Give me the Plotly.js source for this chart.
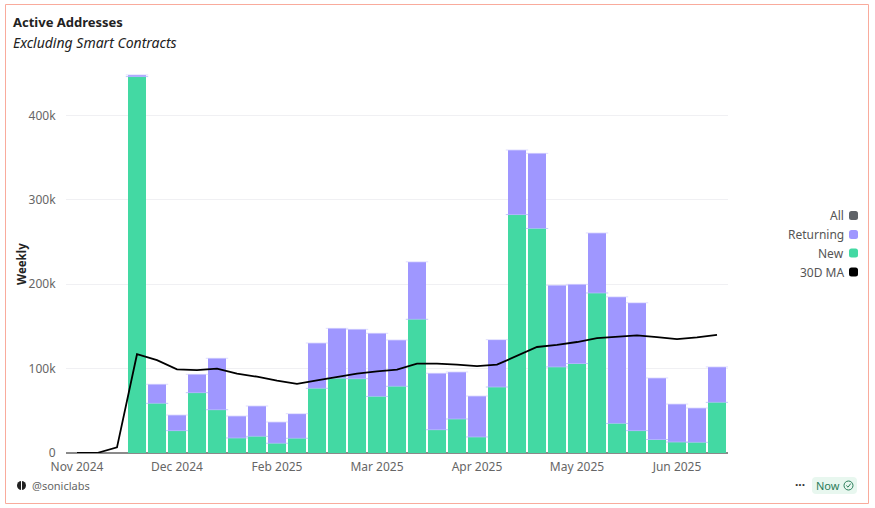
<!DOCTYPE html>
<html><head><meta charset="utf-8">
<script src="https://cdn.plot.ly/plotly-3.0.1.min.js"></script>
<style>html,body{margin:0;padding:0;background:#fff;overflow:hidden}#c{width:875px;height:508px}</style>
</head><body><div id="c"></div>
<script>
const weeks = ["2024-11-11","2024-11-18","2024-11-25","2024-12-02","2024-12-09","2024-12-16","2024-12-23","2024-12-30","2025-01-06","2025-01-13","2025-01-20","2025-01-27","2025-02-03","2025-02-10","2025-02-17","2025-02-24","2025-03-03","2025-03-10","2025-03-17","2025-03-24","2025-03-31","2025-04-07","2025-04-14","2025-04-21","2025-04-28","2025-05-05","2025-05-12","2025-05-19","2025-05-26","2025-06-02","2025-06-09","2025-06-16","2025-06-23"];
const newAddresses = [0,0,0,446000,58800,26500,71500,51300,17800,19700,11500,17400,76600,88500,88000,67000,79000,158400,27600,40300,19000,78200,282500,266000,102000,106000,189600,35000,26500,16000,13000,12600,60000];
const returningAddresses = [0,0,0,2000,22600,18500,21700,60900,26000,36000,25200,29200,53700,59200,58500,74800,54900,68100,66800,55700,48500,56100,76500,89000,96700,93800,71100,150000,151500,72900,45000,40700,42000];
const ma30 = [0,0,6700,117000,110000,99000,98300,100000,94000,90400,85700,82000,86000,90400,94000,96800,98700,106000,105800,104700,103000,104700,115300,125600,128000,131500,136000,138000,139400,137400,135000,137000,140000];
const tickValues = ["2024-11-11","2024-12-16","2025-01-20","2025-02-24","2025-03-31","2025-05-05","2025-06-09"];
const tickLabels = ["Nov 2024","Dec 2024","Feb 2025","Mar 2025","Apr 2025","May 2025","Jun 2025"];
const legendLabels = ["All","Returning","New","30D MA"];
const legendColors = ["#5f6368","#9f97ff","#43d9a3","#000000"];

const FONT = "'Noto Sans', Inter, Roboto, sans-serif";
const L=66,T=65,W=662,H=388;
const px=x=>(x-L)/W, py=y=>(T+H-y)/H;
const barWeeks = weeks.slice(3);
const newTops = newAddresses.slice(3);
const allTops = barWeeks.map((w,i)=>newAddresses[i+3]+returningAddresses[i+3]);

const traces=[
 {type:'bar',name:'New',x:weeks,y:newAddresses,marker:{color:'#43d9a3',line:{width:0}},showlegend:false,hoverinfo:'skip'},
 {type:'bar',name:'Returning',x:weeks,y:returningAddresses,marker:{color:'#9f97ff',line:{width:0}},showlegend:false,hoverinfo:'skip'},
 {type:'scatter',mode:'markers',x:barWeeks,y:newTops,showlegend:false,hoverinfo:'skip',marker:{symbol:'line-ew',size:16,line:{width:0.8,color:'#b4bdfb'}}},
 {type:'scatter',mode:'markers',x:barWeeks,y:allTops,showlegend:false,hoverinfo:'skip',marker:{symbol:'line-ew',size:16,line:{width:0.8,color:'#d8d5ff'}}},
 {type:'scatter',mode:'lines',name:'30D MA',x:weeks,y:ma30,line:{color:'#000',width:1.8},showlegend:false,hoverinfo:'skip'}
];

const ann=(x,y,text,o={})=>Object.assign({xref:'paper',yref:'paper',x:px(x),y:py(y),text,showarrow:false,xanchor:'left',yanchor:'middle',font:{family:FONT,size:12,color:'#555'}},o);
const annotations=[
 ann(11,22,'<b>Active Addresses</b>',{font:{family:FONT,size:13,color:'#222'}}),
 ann(11,43,'<i>Excluding Smart Contracts</i>',{font:{family:FONT,size:14,color:'#222'}}),
 ann(30,485,'@soniclabs',{font:{family:FONT,size:11,color:'#666'}}),
 ann(799.5,484,'<b>···</b>',{xanchor:'center',font:{family:FONT,size:12,color:'#333'}}),
 ann(814,485,'Now',{font:{family:FONT,size:11,color:'#2a7d5a'}}),
 ann(21,264,'<b>Weekly</b>',{xanchor:'center',textangle:-90,font:{family:FONT,size:11.5,color:'#222'}})
];
const shapes=[
 {type:'rect',xref:'paper',yref:'paper',x0:px(5.5),x1:px(868.5),y0:py(4.5),y1:py(503.5),line:{color:'#f9ab9c',width:1},fillcolor:'rgba(0,0,0,0)',layer:'below'},
 {type:'path',xref:'paper',yref:'paper',path:rr(812,477,45,17,4),fillcolor:'#e8f7ef',line:{width:0},layer:'below'},
 {type:'circle',xref:'paper',yref:'paper',x0:px(844),x1:px(853),y0:py(481),y1:py(490),line:{color:'#2a7d5a',width:1},fillcolor:'rgba(0,0,0,0)'},
 {type:'path',xref:'paper',yref:'paper',path:`M${px(846.3)},${py(485.5)} L${px(848)},${py(487.2)} L${px(850.8)},${py(483.5)}`,line:{color:'#2a7d5a',width:1}},
 {type:'circle',xref:'paper',yref:'paper',x0:px(17),x1:px(26),y0:py(481),y1:py(490),line:{width:0},fillcolor:'#222'},
 {type:'rect',xref:'paper',yref:'paper',x0:px(21),x1:px(22),y0:py(480),y1:py(491),line:{width:0},fillcolor:'#fff'}
];
function rr(x,y,w,h,r){
 const X=a=>px(a),Y=a=>py(a);
 return `M${X(x+r)},${Y(y)} L${X(x+w-r)},${Y(y)} Q${X(x+w)},${Y(y)} ${X(x+w)},${Y(y+r)} L${X(x+w)},${Y(y+h-r)} Q${X(x+w)},${Y(y+h)} ${X(x+w-r)},${Y(y+h)} L${X(x+r)},${Y(y+h)} Q${X(x)},${Y(y+h)} ${X(x)},${Y(y+h-r)} L${X(x)},${Y(y+r)} Q${X(x)},${Y(y)} ${X(x+r)},${Y(y)} Z`;
}
const rows=[215.5,234.5,253,272];
legendLabels.forEach((t,i)=>{
 annotations.push(ann(846,rows[i],t,{xanchor:'right',font:{family:FONT,size:12,color:'#555'}}));
 shapes.push({type:'path',xref:'paper',yref:'paper',path:rr(849,rows[i]-4.5,9,9,2.5),fillcolor:legendColors[i],line:{width:0}});
});

const layout={
 width:875,height:508,autosize:false,showlegend:false,
 paper_bgcolor:'#fff',plot_bgcolor:'#fff',
 margin:{l:L,r:875-L-W,t:T,b:508-T-H,pad:0},
 barmode:'stack',bargap:0.1,
 font:{family:FONT,size:12,color:'#666'},
 xaxis:{type:'category',categoryorder:'array',categoryarray:weeks,range:[-0.55,32.55],tickmode:'array',tickvals:tickValues,ticktext:tickLabels,tickangle:0,showgrid:false,zeroline:false,showline:false,ticks:'outside',ticklen:3,tickcolor:'rgba(0,0,0,0)',tickfont:{family:FONT,size:12,color:'#666'}},
 yaxis:{range:[0,459700],tickmode:'array',tickvals:[0,100000,200000,300000,400000],ticktext:['0','100k','200k','300k','400k'],showgrid:true,gridcolor:'#f0f0f3',gridwidth:1,zeroline:true,zerolinecolor:'#8a8a8a',zerolinewidth:1.6,showline:false,ticks:'outside',ticklen:7,tickcolor:'rgba(0,0,0,0)',tickfont:{family:FONT,size:12,color:'#666'}},
 annotations,shapes
};
Plotly.newPlot('c',traces,layout,{displayModeBar:false,responsive:false});
</script></body></html>
